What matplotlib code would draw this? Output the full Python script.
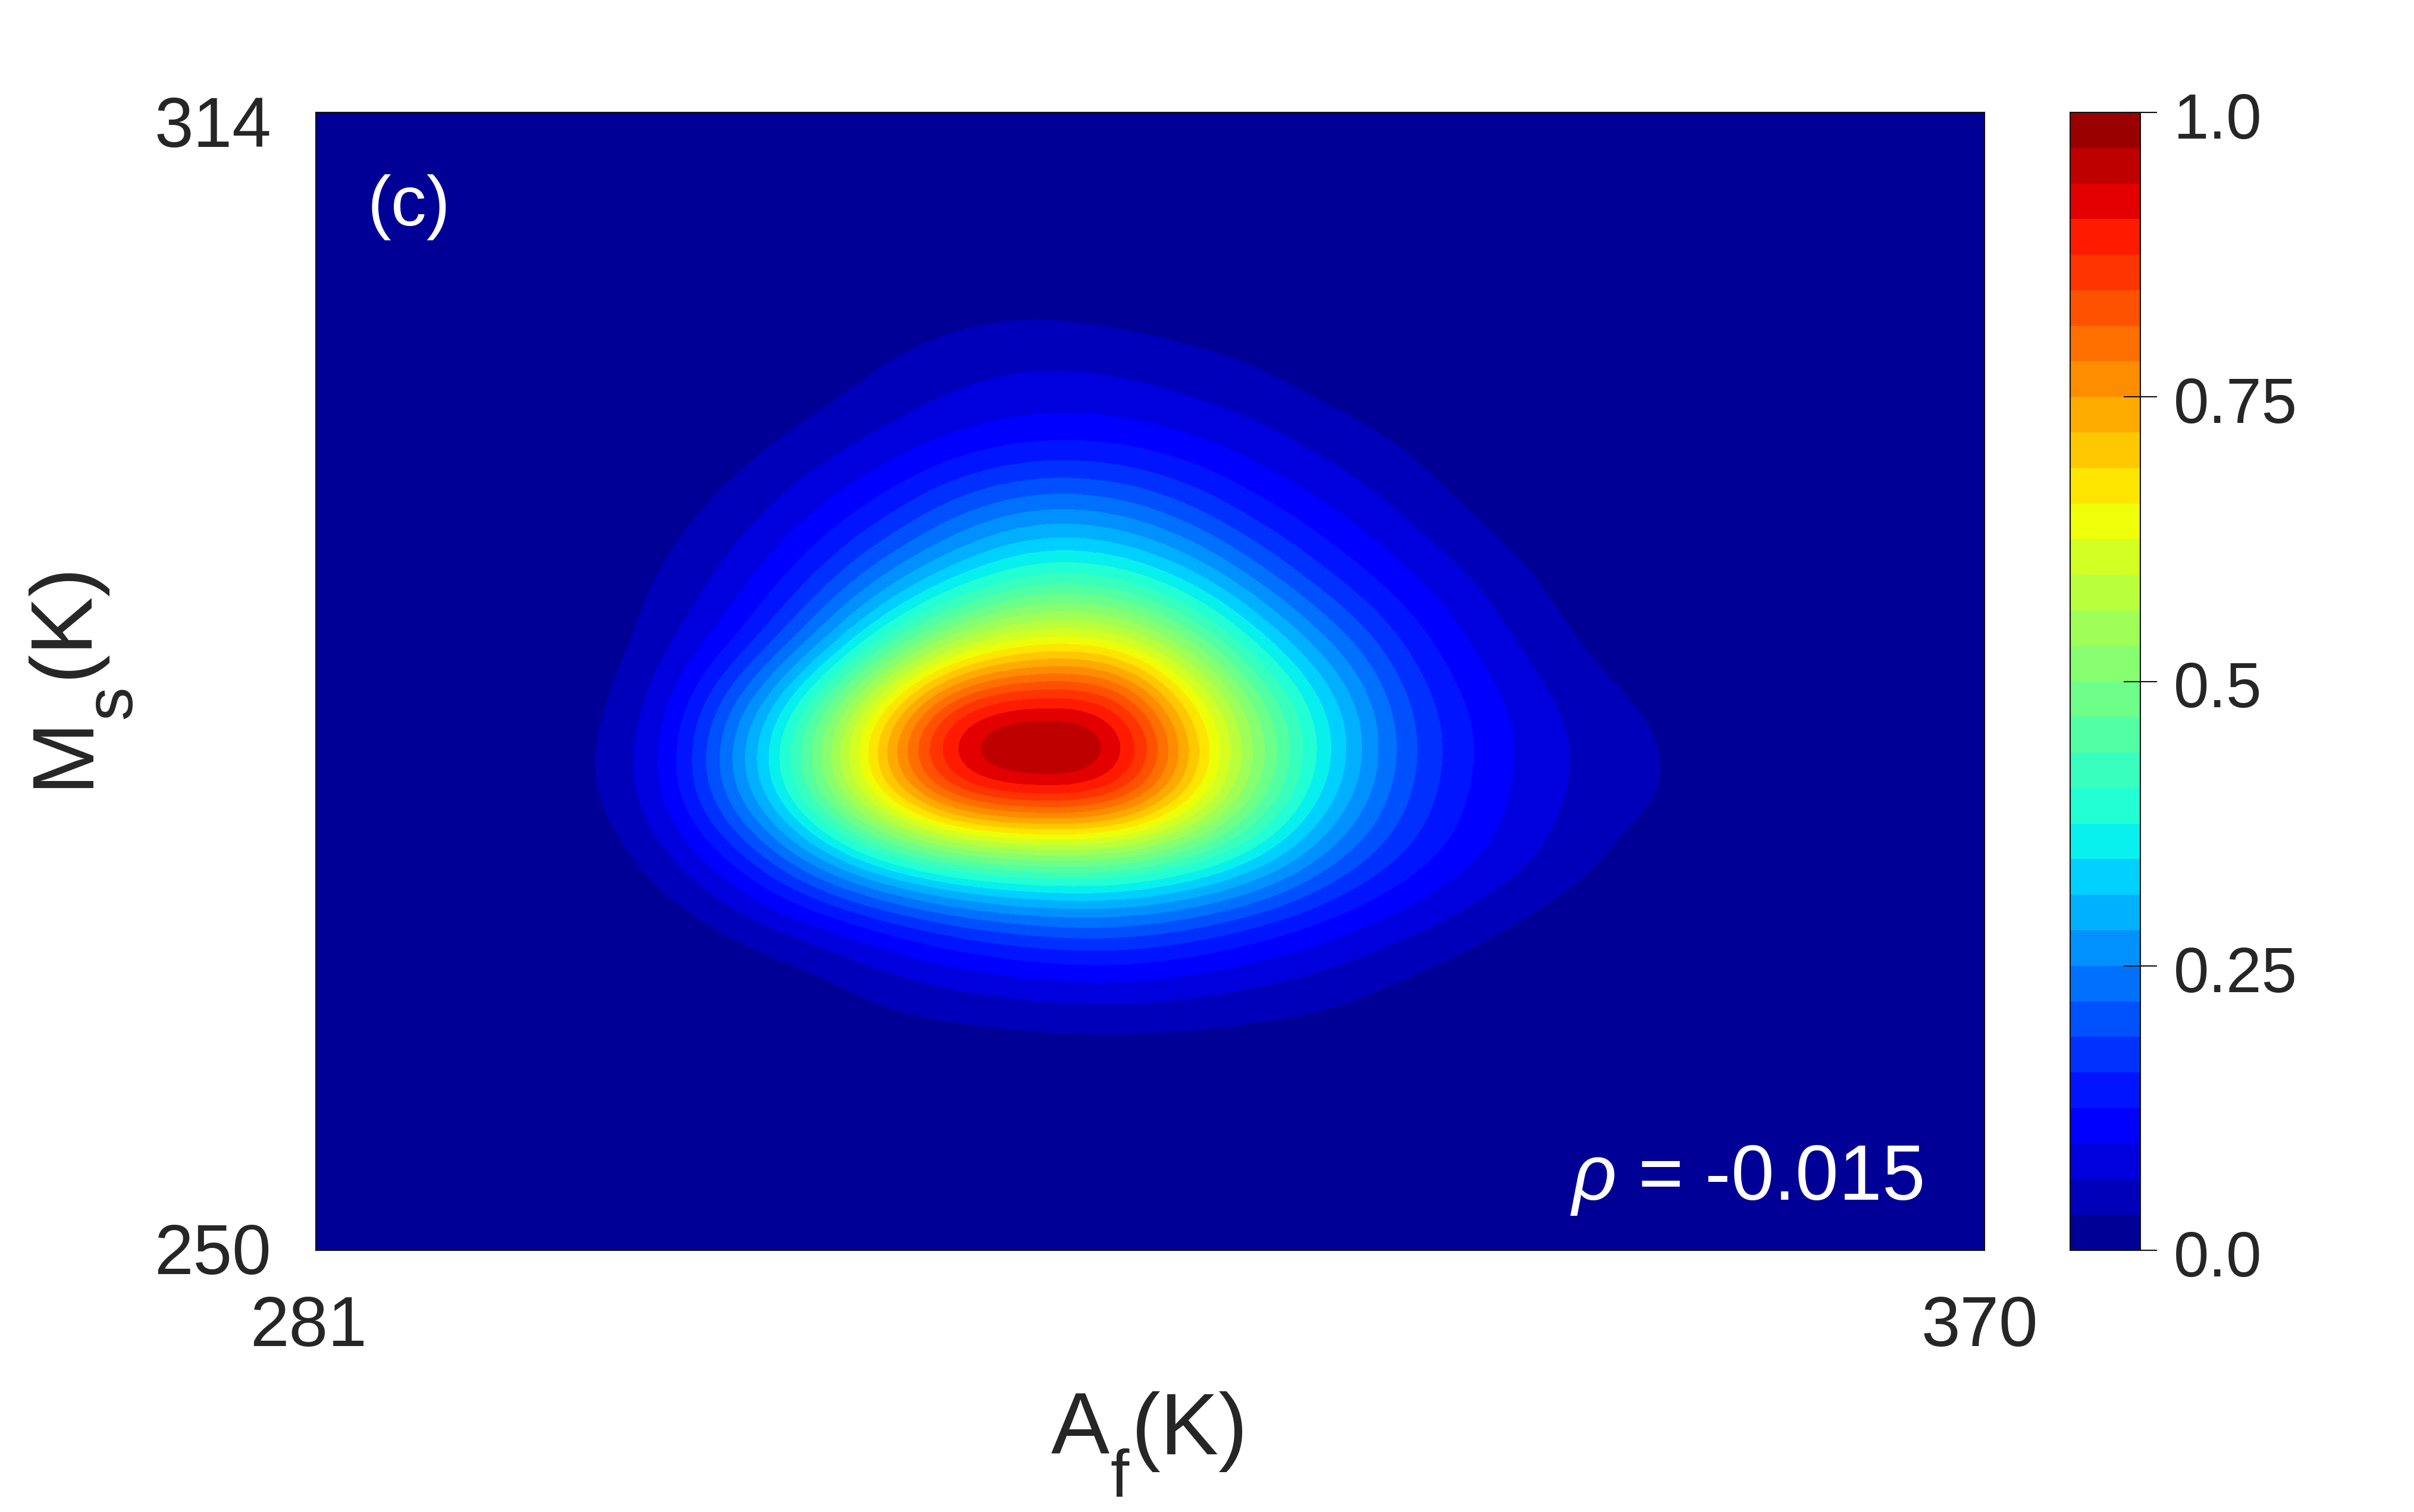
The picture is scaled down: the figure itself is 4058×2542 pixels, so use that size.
import numpy as np
import matplotlib
matplotlib.use('Agg')
import matplotlib.pyplot as plt
from matplotlib.colors import ListedColormap
from matplotlib.transforms import ScaledTranslation

plt.rcParams['font.family'] = ['Liberation Sans', 'DejaVu Sans']
plt.rcParams['mathtext.fontset'] = 'custom'
plt.rcParams['mathtext.rm'] = 'Liberation Sans'
plt.rcParams['mathtext.it'] = 'Liberation Sans:italic'

# density, rows top (314 K) to bottom (250 K), 22 columns
row_00 = [0]*22
row_01 = [0]*22
row_02 = [0,0,0,0,0,0,0,0,.01,.012,.005,0,0,0,0,0,0,0,0,0,0,0]
row_03 = [0,0,0,0,0,0,.005,.03,.05,.06,.055,.04,.025,.005,0,0,0,0,0,0,0,0]
row_04 = [0,0,0,0,0,.01,.035,.06,.085,.10,.10,.085,.065,.04,.02,.005,0,0,0,0,0,0]
row_05 = [0,0,0,0,.01,.04,.08,.13,.20,.24,.23,.18,.12,.085,.045,.015,0,0,0,0,0,0]
row_06 = [0,0,0,0,.03,.07,.14,.24,.33,.40,.39,.32,.22,.14,.09,.05,.015,0,0,0,0,0]
row_07 = [0,0,0,0,.045,.11,.24,.42,.58,.66,.65,.52,.36,.24,.14,.075,.035,.005,0,0,0,0]
row_08 = [0,0,0,.015,.07,.24,.45,.72,.97,.99,.98,.72,.50,.33,.18,.11,.06,.035,.005,0,0,0]
row_09 = [0,0,0,.02,.08,.26,.47,.74,.95,.99,.97,.74,.50,.32,.18,.105,.06,.045,.01,0,0,0]
row_10 = [0,0,0,0,.04,.12,.26,.38,.45,.48,.48,.43,.34,.22,.14,.09,.05,.01,0,0,0,0]
row_11 = [0,0,0,0,0,.025,.055,.10,.15,.18,.19,.165,.125,.09,.06,.03,.005,0,0,0,0,0]
row_12 = [0,0,0,0,0,0,.005,.03,.04,.05,.055,.05,.04,.03,.01,0,0,0,0,0,0,0]
row_13 = [0]*22
row_14 = [0]*22
row_15 = [0]*22

x_ticks = [281, 370]
y_ticks = [250, 314]
cbar_ticks = [0.0, 0.25, 0.5, 0.75, 1.0]
cbar_labels = ['0.0', '0.25', '0.5', '0.75', '1.0']

density = np.array([row_00, row_01, row_02, row_03, row_04, row_05, row_06, row_07,
                    row_08, row_09, row_10, row_11, row_12, row_13, row_14, row_15])

W, H = 4058, 2542
fig = plt.figure(figsize=(W/100, H/100), dpi=100)

def px(x, y):
    return x/W, 1-y/H

# MATLAB style jet with 32 steps
cmap = ListedColormap(plt.get_cmap('jet')(np.linspace(0.022, 0.975, 32)))

ax = fig.add_axes([531/W, 1-2102/H, (3336-531)/W, (2102-189)/H])
im = ax.imshow(density, extent=[x_ticks[0], x_ticks[1], y_ticks[0], y_ticks[1]],
               aspect='auto', cmap=cmap, vmin=0, vmax=1,
               interpolation='bicubic', interpolation_stage='data')

text_col = '#262626'
ax.set_xticks(x_ticks)
ax.set_yticks(y_ticks)
ax.tick_params(length=0, labelsize=85, labelcolor=text_col, pad=54)
for s in ax.spines.values():
    s.set_linewidth(1.5)
    s.set_color('#111111')

# tick labels sit a bit off the corners in the original
def nudge(label, dx, dy):
    label.set_transform(label.get_transform() + ScaledTranslation(dx/100, dy/100, fig.dpi_scale_trans))

nudge(ax.get_xticklabels()[0], -13, 0)
nudge(ax.get_xticklabels()[1], -8, 0)
nudge(ax.get_yticklabels()[0], 0, 3)
nudge(ax.get_yticklabels()[1], 0, -15)

# axis labels, subscripts are big and low so they get their own text
fig.text(*px(1767, 2445), 'A', fontsize=106, color=text_col, ha='left', va='baseline')
fig.text(*px(1866, 2517), 'f', fontsize=81, color=text_col, ha='left', va='baseline')
fig.text(*px(1902, 2445), '(K)', fontsize=106, color=text_col, ha='left', va='baseline')
fig.text(*px(146, 1324), 'M', fontsize=106, color=text_col, ha='left', va='baseline', rotation=90, rotation_mode='anchor')
fig.text(*px(220, 1208), 's', fontsize=81, color=text_col, ha='left', va='baseline', rotation=90, rotation_mode='anchor')
fig.text(*px(146, 1140), '(K)', fontsize=106, color=text_col, ha='left', va='baseline', rotation=90, rotation_mode='anchor')

ax.text(0.031, 0.9165, '(c)', transform=ax.transAxes, color='white', fontsize=86, ha='left', va='center')
ax.text(0.963, 0.0444, r'$\rho$ = -0.015', transform=ax.transAxes, color='white', fontsize=94, ha='right', va='baseline')

cax = fig.add_axes([3480/W, 1-2102/H, (3598-3480)/W, (2102-189)/H])
cb = fig.colorbar(im, cax=cax, ticks=cbar_ticks)
cb.ax.set_yticklabels(cbar_labels)
cb.ax.tick_params(direction='inout', length=40, width=1.5, labelsize=77, labelcolor=text_col, pad=20, color='#111111')
cb.outline.set_linewidth(1.5)
cb.outline.set_edgecolor('#111111')
for lab in cb.ax.get_yticklabels():
    nudge(lab, 0, -5)

fig.savefig('out.png', dpi=100)
